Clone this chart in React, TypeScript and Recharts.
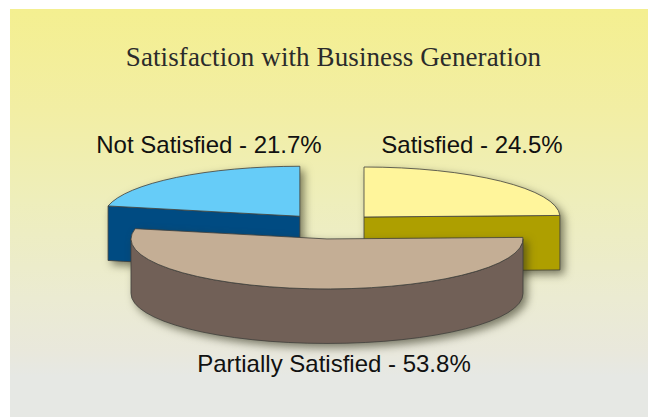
import React from "react";
import { PieChart, Pie } from "recharts";

const categories = ["Not Satisfied", "Satisfied", "Partially Satisfied"];
const shares = [21.7, 24.5, 53.8];

const topColors = ["#66ccf8", "#fff59b", "#c4ae95"];
const sideColors = ["#004b82", "#ae9f00", "#716057"];
const labelCentres = [
  [209, 153],
  [472, 153],
  [334, 372],
];
const explodeX = [51, 46, 57];

const W = 648;
const H = 417;
const CX = 332;
const CY = 226.2;
const RX = 196;
const SQUASH = 50 / 196;
const DEPTH = 54.5;
const EXPLODE_Y = 12.8;
const RAD = Math.PI / 180;

const tableData = categories.map((name, i) => ({ name, value: shares[i] }));
const firstAngle = 90 + (360 * shares[0]) / 100;

function Wedge(props: any) {
  const { cx, cy, outerRadius, startAngle, endAngle, name } = props;
  const i = categories.indexOf(name);
  const mid = ((startAngle + endAngle) / 2) * RAD;
  const ox = cx + explodeX[i] * Math.cos(mid);
  const oy = cy - EXPLODE_Y * Math.sin(mid);
  const rx = outerRadius;
  const ry = outerRadius * SQUASH;
  const p = (a: number, d = 0) => `${ox + rx * Math.cos(a * RAD)} ${oy - ry * Math.sin(a * RAD) + d}`;
  const line = "#40403c";
  const faces: string[] = [];
  const s = Math.min(startAngle, 0);
  const e = Math.max(endAngle, -180);
  if (s > e) {
    const lg = s - e > 180 ? 1 : 0;
    faces.push(`M${p(s)} A${rx} ${ry} 0 ${lg} 1 ${p(e)} L${p(e, DEPTH)} A${rx} ${ry} 0 ${lg} 0 ${p(s, DEPTH)} Z`);
  }
  const radial = (a: number) => `M${ox} ${oy} L${p(a)} L${p(a, DEPTH)} L${ox} ${oy + DEPTH} Z`;
  if (Math.cos(startAngle * RAD) < -1e-6) faces.push(radial(startAngle));
  if (Math.cos(endAngle * RAD) > 1e-6) faces.push(radial(endAngle));
  const big = startAngle - endAngle > 180 ? 1 : 0;
  return (
    <g style={{ filter: "drop-shadow(4px 4px 4px rgba(50,50,30,0.6))" }}>
      {faces.map((d, k) => (
        <path key={k} d={d} fill={sideColors[i]} stroke={line} strokeWidth={0.8} />
      ))}
      <path
        d={`M${ox} ${oy} L${p(startAngle)} A${rx} ${ry} 0 ${big} 1 ${p(endAngle)} Z`}
        fill={topColors[i]}
        stroke={line}
        strokeWidth={0.8}
      />
    </g>
  );
}

function SliceLabel(props: any) {
  const i = categories.indexOf(props.name);
  return (
    <text
      x={labelCentres[i][0]}
      y={labelCentres[i][1]}
      textAnchor="middle"
      fontFamily="'Liberation Sans', Arial, sans-serif"
      fontSize={24}
      fill="#111"
    >
      {`${props.name} - ${props.value}%`}
    </text>
  );
}

export default function App() {
  return (
    <div style={{ position: "absolute", left: 0, top: 0, width: W, height: H, overflow: "hidden", background: "#fff" }}>
      <div
        style={{
          position: "absolute",
          left: 10,
          top: 9,
          width: 638,
          height: 408,
          background:
            "linear-gradient(180deg, #f4ef90 0%, #f2eea4 25%, #eeeebb 47%, #ebebd2 71%, #e9e8dc 84%, #e6e8e4 90%, #e6e8e4 100%)",
        }}
      />
      <div
        style={{
          position: "absolute",
          left: 0,
          top: 40,
          width: 667,
          textAlign: "center",
          fontFamily: "'Liberation Serif', serif",
          fontSize: 27,
          letterSpacing: 0.1,
          lineHeight: "34px",
          color: "#2b2b2b",
        }}
      >
        Satisfaction with Business Generation
      </div>
      <div style={{ position: "absolute", left: 0, top: 0 }}>
        <PieChart width={W} height={H} margin={{ top: 0, right: 0, bottom: 0, left: 0 }}>
          <Pie
            data={tableData}
            dataKey="value"
            nameKey="name"
            cx={CX}
            cy={CY}
            innerRadius={0}
            outerRadius={RX}
            startAngle={firstAngle}
            endAngle={firstAngle - 360}
            paddingAngle={0}
            stroke="none"
            isAnimationActive={false}
            shape={Wedge}
            label={SliceLabel}
            labelLine={false}
          />
        </PieChart>
      </div>
    </div>
  );
}
